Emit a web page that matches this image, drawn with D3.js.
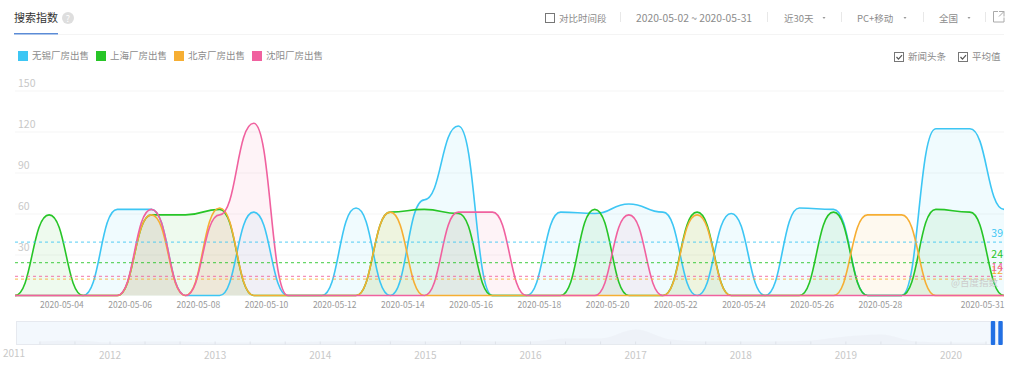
<!DOCTYPE html>
<html>
<head>
<meta charset="utf-8">
<script src="https://cdn.jsdelivr.net/npm/d3@7"></script>
<style>
  html, body { margin: 0; padding: 0; background: #fff; }
  svg { display: block; }
  text { font-family: "Noto Sans CJK SC", "Open Sans", sans-serif; }
</style>
</head>
<body>
<div class="chart"></div>
<script>
// one value per day, 2020-05-02 .. 2020-05-31
const days = ["05-02","05-03","05-04","05-05","05-06","05-07","05-08","05-09","05-10","05-11","05-12","05-13","05-14","05-15","05-16","05-17","05-18","05-19","05-20","05-21","05-22","05-23","05-24","05-25","05-26","05-27","05-28","05-29","05-30","05-31"];
const wuxi     = [0,0,0,63,63,0,0,61,0,0,64,0,70,124,0,0,61,60,67,61,0,60,0,64,63,0,0,122,122,63];
const shanghai = [0,59,0,0,59,59,63,0,0,0,0,61,63,60,0,0,0,63,0,0,61,0,0,0,61,0,0,63,61,0];
const beijing  = [0,0,0,0,59,0,64,0,0,0,0,61,0,0,0,0,0,0,0,0,59,0,0,0,0,59,59,0,0,0];
const shenyang = [0,0,0,0,63,0,59,126,0,0,0,0,0,61,61,0,0,0,59,0,0,0,0,0,0,0,0,0,0,0];
const seriesNames = ["无锡厂房出售","上海厂房出售","北京厂房出售","沈阳厂房出售"];
const seriesColors = ["#3dc6f4","#27c527","#f6ae33","#f0619f"];
const averages = [39,24,12,14];
const xTickDays = ["05-04","05-06","05-08","05-10","05-12","05-14","05-16","05-18","05-20","05-22","05-24","05-26","05-28","05-31"];
const yTicks = [0,30,60,90,120,150];
const years = [2012,2013,2014,2015,2016,2017,2018,2019,2020];
// faint overview in the timeline strip, one value every 4 months from 2011-05
const overview = [3,4,2,3,3,2,2,2,3,3,4,3,4,3,3,6,6,15,5,3,3,3,4,8,10,3,2,2];

const width = 1024, height = 371;
const svg = d3.select(".chart").append("svg")
    .attr("width", width).attr("height", height);

const x = d3.scalePoint().domain(days).range([15, 1004]);
const y = d3.scaleLinear().domain([0, 150]).range([295.5, 90.5]);

// header
svg.append("text").attr("x", 14).attr("y", 22).attr("font-size", 11).attr("fill", "#333").text("搜索指数");
svg.append("rect").attr("x", 14).attr("y", 33).attr("width", 44).attr("height", 1.5).attr("fill", "#5b8bd6");
svg.append("rect").attr("x", 58).attr("y", 34).attr("width", 946).attr("height", 1).attr("fill", "#f4f4f4");
svg.append("circle").attr("cx", 68).attr("cy", 18).attr("r", 6).attr("fill", "#dedede");
svg.append("text").attr("x", 68).attr("y", 21.5).attr("text-anchor", "middle").attr("font-size", 9).attr("fill", "#fff").text("?");

function checkbox(px, py, size, checked) {
    svg.append("rect").attr("x", px + 0.5).attr("y", py + 0.5).attr("width", size).attr("height", size)
        .attr("fill", "#fff").attr("stroke", "#777");
    if (checked) {
        svg.append("path").attr("d", `M${px + 2.5},${py + 5}l2,2.2l3.5,-4`)
            .attr("fill", "none").attr("stroke", "#555").attr("stroke-width", 1.2);
    }
}
function label(px, py, str, size, color) {
    svg.append("text").attr("x", px).attr("y", py).attr("font-size", size || 9.5).attr("fill", color || "#8c8c8c").text(str);
}
function caret(cx) {
    svg.append("path").attr("d", `M${cx - 1.5},17h3l-1.5,2z`).attr("fill", "#999");
}

checkbox(545, 13, 9, false);
label(559, 21.5, "对比时间段");
label(636, 21.5, "2020-05-02 ~ 2020-05-31", 10.3);
label(784, 21.5, "近30天");
caret(824);
label(857, 21.5, "PC+移动");
caret(905);
label(939, 21.5, "全国");
caret(969);
[620, 767, 841, 923, 985].forEach(sx => {
    svg.append("rect").attr("x", sx).attr("y", 12).attr("width", 1).attr("height", 10).attr("fill", "#e8e8e8");
});
svg.append("path").attr("d", "M998,11.5h-4.5v10.5h10.5v-4.5M999,11.5h5v5M1004,11.5l-5,5")
    .attr("fill", "none").attr("stroke", "#aaa");

// legend
seriesNames.forEach((name, i) => {
    svg.append("rect").attr("x", 18 + i * 78).attr("y", 51).attr("width", 10).attr("height", 10).attr("fill", seriesColors[i]);
    label(32 + i * 78, 59, name, 9.5, "#8c8c8c");
});
checkbox(894, 52, 9, true);
label(908, 60, "新闻头条");
checkbox(958, 52, 9, true);
label(972, 60, "平均值");

// grid + y labels
const yAxis = d3.axisRight(y).tickValues(yTicks.slice(1)).tickSize(989);
svg.append("g").attr("transform", "translate(15,0)").call(yAxis)
    .call(g => g.select(".domain").remove())
    .call(g => g.selectAll(".tick line").attr("stroke", "#f5f5f5"))
    .call(g => g.selectAll(".tick text").attr("x", 3).attr("dy", -4).attr("font-size", 10.5)
        .attr("fill", "#c8c8c8").attr("font-family", "'Open Sans', sans-serif"));

// x labels end on their own day
const xAxis = d3.axisBottom(x).tickValues(xTickDays).tickSize(0).tickFormat(d => "2020-" + d);
svg.append("g").attr("transform", "translate(0,295.5)").call(xAxis)
    .call(g => g.select(".domain").remove())
    .call(g => g.selectAll(".tick text").attr("text-anchor", "end").attr("y", 6).attr("font-size", 8.5)
        .attr("fill", "#999").attr("font-family", "'Open Sans', sans-serif"));

// series
const allSeries = [wuxi, shanghai, beijing, shenyang];
const curve = d3.curveBumpX;
const area = d3.area().x((d, i) => x(days[i])).y0(y(0)).y1(d => y(d)).curve(curve);
const line = d3.line().x((d, i) => x(days[i])).y(d => y(d)).curve(curve);

allSeries.forEach((values, i) => {
    svg.append("path").attr("d", area(values)).attr("fill", seriesColors[i]).attr("fill-opacity", 0.08);
});
allSeries.forEach((values, i) => {
    svg.append("path").attr("d", line(values)).attr("fill", "none")
        .attr("stroke", seriesColors[i]).attr("stroke-width", 1.6);
});

// average lines
averages.forEach((v, i) => {
    svg.append("line").attr("x1", 15).attr("x2", 1004).attr("y1", y(v)).attr("y2", y(v))
        .attr("stroke", seriesColors[i]).attr("stroke-opacity", 0.7).attr("stroke-width", 1.2).attr("stroke-dasharray", "3,3");
    svg.append("text").attr("x", 1003).attr("y", y(v) - 5).attr("text-anchor", "end").attr("font-size", 10.5)
        .attr("fill", seriesColors[i]).attr("font-family", "'Open Sans', sans-serif").text(v);
});

svg.append("text").attr("x", 951).attr("y", 286).attr("font-size", 9.5).attr("fill", "#ccc").text("@百度指数");

// timeline strip
const timeX = d3.scaleLinear().domain([2012, 2020]).range([110, 951]);
const stripY = d3.scaleLinear().domain([0, 23]).range([344.5, 321.5]);
const strip = svg.append("g");
strip.append("rect").attr("x", 16.5).attr("y", 321.5).attr("width", 986).attr("height", 23)
    .attr("fill", "#f3f8fd").attr("stroke", "#e6e9ef");
const overviewX = (d, i) => timeX(2011 + (i + 1) / 3);
strip.append("path")
    .attr("d", d3.area().x(overviewX).y0(stripY(0)).y1(d => stripY(d)).curve(d3.curveMonotoneX)(overview))
    .attr("fill", "#e8ecf2").attr("fill-opacity", 0.45);
strip.selectAll(".stripTick").data(overview).join("line").attr("class", "stripTick")
    .attr("x1", overviewX).attr("x2", overviewX)
    .attr("y1", stripY(0) - 3).attr("y2", stripY(0))
    .attr("stroke", "#dfe3ea");
years.forEach(yr => {
    strip.append("text").attr("x", timeX(yr)).attr("y", 359).attr("text-anchor", "middle").attr("font-size", 10)
        .attr("fill", "#c8c8c8").attr("font-family", "'Open Sans', sans-serif").text(yr);
});
strip.append("text").attr("x", 14).attr("y", 357).attr("text-anchor", "middle").attr("font-size", 10)
    .attr("fill", "#c8c8c8").attr("font-family", "'Open Sans', sans-serif").text(2011);
[993, 1000.5].forEach(hx => {
    strip.append("rect").attr("x", hx - 2.2).attr("y", 321).attr("width", 4.4).attr("height", 24).attr("rx", 1).attr("fill", "#2270e4");
});
</script>
</body>
</html>
